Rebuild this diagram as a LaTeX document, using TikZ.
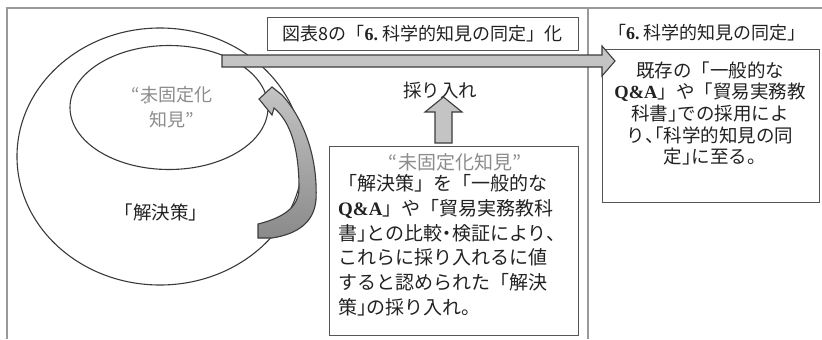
\documentclass[tikz,border=0pt]{standalone}
\usepackage{fontspec}
\setmainfont{Liberation Serif}
\newfontfamily\jp{Noto Sans CJK JP}
\newfontfamily\jph[RawFeature=+halt]{Noto Sans CJK JP}
\newfontfamily\symf{DejaVu Sans}
\usetikzlibrary{shapes.geometric,calc}
\definecolor{frameC}{HTML}{9A9A9A}
\definecolor{ellC}{HTML}{3A3A3A}
\definecolor{boxC}{HTML}{555555}
\definecolor{arrowC}{HTML}{3C3C3C}
\definecolor{arrowF}{HTML}{C4C4C4}
\definecolor{arrowD}{HTML}{8A8A8A}
\definecolor{txtC}{HTML}{222222}
\definecolor{greyT}{HTML}{8C8C8C}
\newcommand{\lat}[1]{{\rmfamily\bfseries #1}}
\newcommand{\hw}[1]{{\jph #1}}
\tikzset{
  frameline/.style={draw=frameC, line width=1.2bp},
  ell/.style={draw=ellC, line width=1.1bp, ellipse, inner sep=0pt, outer sep=0pt},
  box/.style={draw=boxC, line width=1bp, fill=white, inner sep=0pt, outer sep=0pt},
  bigarrow/.style={draw=arrowC, line width=1.1bp, fill=arrowF, line join=miter},
  jtext/.style={font=\jp\fontsize{18.5bp}{21.7bp}\selectfont, text=txtC, inner sep=0pt},
  jbody/.style={font=\jp\fontsize{19bp}{24.7bp}\selectfont, text=txtC, inner sep=0pt},
}
\begin{document}
\begin{tikzpicture}[x=1bp,y=-1bp]
\useasboundingbox (0,0) rectangle (822,339);
% frame
\draw[frameline] (7,339) -- (7,8) -- (822,8);
\draw[frameline] (588,8) -- (588,339);
% ellipses
\node[ell, minimum width=286bp, minimum height=257bp] (outer) at (160,156.5) {};
\node[ell, minimum width=198bp, minimum height=124bp] (inner) at (169,107.5) {};
\node[jtext, font=\jp\fontsize{18bp}{25bp}\selectfont, text=greyT, align=center] (mikotei) at (172,107.5) {“未固定化\\知見”};
\node[inner sep=0pt, text=greyT, font=\symf\fontsize{8bp}{8bp}\selectfont] (ret) at (146,102) {↲};
\node[jtext, font=\jp\fontsize{18.5bp}{22bp}\selectfont] (kaiketsu) at (161,212) {「解決策」};
% curved arrow
\draw[bigarrow, top color=arrowF, bottom color=arrowD, shading angle=0]
  (259,99) -- (272,87) -- (282,95)
  .. controls (305,120) and (318,160) .. (316,200)
  .. controls (314,222) and (298,234) .. (272,238)
  -- (258,238) -- (258,224)
  .. controls (282,218) and (299,208) .. (299,188)
  .. controls (299,150) and (291,122) .. (274,108)
  -- (272,115) -- cycle;
% title box
\node[box, minimum width=311bp, minimum height=33bp, font=\jp\fontsize{18bp}{22bp}\selectfont, text=txtC] (title) at (422.5,33.5) {図表8の「\lat{6.}\ 科学的知見の同定」化};
% right column
\node[jtext, font=\jp\fontsize{18bp}{22bp}\selectfont] (head6) at (707,33) {\hw{「}\lat{6.}\ 科学的知見の同定\hw{」}};
\node[box, minimum width=217bp, minimum height=153bp] (rbox) at (710.5,125.5) {};
\node[jtext, align=center] (rtext) at (710,113.5) {既存の「一般的な\\\lat{Q\&A}」や「貿易実務教\\科書\hw{」}での採用によ\\り\hw{、「}科学的知見の同\\定\hw{」}に至る\hw{。}};
% horizontal arrow
\coordinate (hs) at (222,61);
\coordinate (he) at (rbox.west |- hs);
\draw[bigarrow] ($(hs)+(0,-6)$) -- ($(he)+(0,-6)$) -- ($(he)+(0,-15)$) -- ($(he)+(13,0)$) -- ($(he)+(0,15)$) -- ($(he)+(0,6)$) -- ($(hs)+(0,6)$) -- cycle;
% bottom box
\node[box, minimum width=249bp, minimum height=189bp] (bbox) at (453.5,240.5) {};
\node[jbody, text=greyT] (btitle) at (455,162) {“未固定化知見”};
\node[jbody, align=left, anchor=north west] (btext) at (338,174.5) {「解決策」を「一般的な\\\lat{Q\&A}」や「貿易実務教科\\書\hw{」}との比較\hw{・}検証により\hw{、}\\これらに採り入れるに値\\すると認められた「解決\\策\hw{」}の採り入れ\hw{。}};
% up arrow and label
\node[jtext] (tori) at (440,90) {採り入れ};
\coordinate (ub) at (443.5,143);
\draw[bigarrow] ($(ub)+(-8.5,0)$) -- ($(ub)+(-8.5,-31)$) -- ($(ub)+(-18.5,-31)$) -- ($(ub)+(0,-46)$) -- ($(ub)+(18.5,-31)$) -- ($(ub)+(8.5,-31)$) -- ($(ub)+(8.5,0)$) -- cycle;
\end{tikzpicture}
\end{document}
